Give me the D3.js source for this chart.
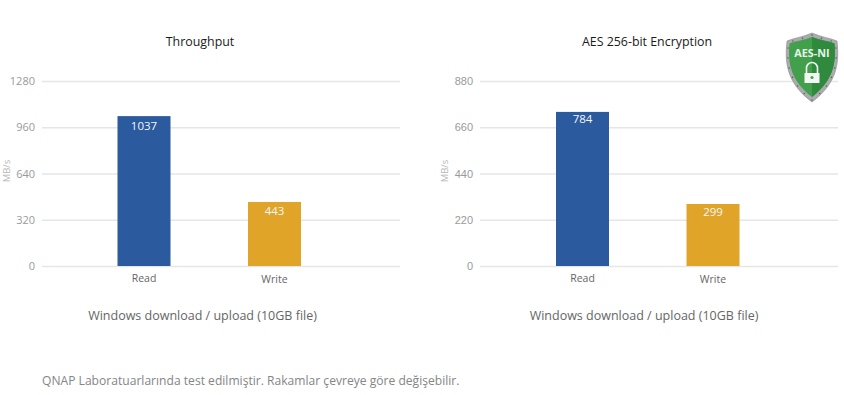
<!DOCTYPE html>
<html>
<head>
<meta charset="utf-8">
<script src="https://cdn.jsdelivr.net/npm/d3@7"></script>
<style>
  html, body { margin: 0; padding: 0; background: #fff; }
  svg { display: block; }
  text { font-family: "Open Sans", sans-serif; }
</style>
</head>
<body>
<svg id="chart" width="844" height="395"></svg>
<script>
var categories = ['Read', 'Write'];
var barColors = ['#2b5a9e', '#e0a528'];

var throughputValues = [1037, 443];
var throughputLabels = ['1037', '443'];
var throughputTicks = [0, 320, 640, 960, 1280];

// the Read bar in the picture stops well short of its "784" label, so the
// height is what was read off the axis and the label stays as printed
var encryptionValues = [733, 295];
var encryptionLabels = ['784', '299'];
var encryptionTicks = [0, 220, 440, 660, 880];

var subtitle = 'Windows download / upload (10GB file)';
var footnote = 'QNAP Laboratuarlarında test edilmiştir. Rakamlar çevreye göre değişebilir.';

var svg = d3.select('#chart');

function createBarChart(options) {
  var left = options.left,
    width = 358,
    top = 81,
    height = 185;

  var g = svg.append('g').attr('transform', 'translate(' + left + ',' + top + ')');

  // two bars sit left of centre in the plot, so a point scale with its own range
  var xScale = d3.scalePoint().domain(categories).range(options.barRange);
  var yScale = d3
    .scaleLinear()
    .domain([0, options.ticks[options.ticks.length - 1]])
    .range([height, 0]);
  var barWidth = 53;

  // gridlines + tick labels
  var yAxis = g.append('g').call(
    d3
      .axisLeft(yScale)
      .tickValues(options.ticks)
      .tickFormat(d3.format('d'))
      .tickSize(-width)
      .tickPadding(7)
  );
  yAxis.select('.domain').remove();
  yAxis.selectAll('.tick line').attr('stroke', '#e6e6e6').attr('stroke-width', 1.4);
  yAxis
    .selectAll('.tick text')
    .attr('fill', '#9a9a9a')
    .attr('font-size', '11px')
    .style('font-family', options.tickFont);

  // bars
  g.selectAll('.bar')
    .data(options.values)
    .enter()
    .append('rect')
    .attr('class', 'bar')
    .attr('x', function (d, i) {
      return xScale(categories[i]) - barWidth / 2;
    })
    .attr('y', function (d) {
      return yScale(d);
    })
    .attr('width', barWidth)
    .attr('height', function (d) {
      return height - yScale(d);
    })
    .attr('fill', function (d, i) {
      return barColors[i];
    });

  // value labels
  g.selectAll('.value')
    .data(options.values)
    .enter()
    .append('text')
    .attr('class', 'value')
    .attr('x', function (d, i) {
      return xScale(categories[i]);
    })
    .attr('y', function (d, i) {
      return yScale(d) + options.labelOffset[i];
    })
    .attr('text-anchor', 'middle')
    .attr('fill', '#f4f6fa')
    .attr('font-size', '11.5px')
    .text(function (d, i) {
      return options.labels[i];
    });

  // category labels
  g.selectAll('.cat')
    .data(categories)
    .enter()
    .append('text')
    .attr('class', 'cat')
    .attr('x', function (d) {
      return xScale(d);
    })
    .attr('y', function (d, i) {
      return height + 16 + i;
    })
    .attr('text-anchor', 'middle')
    .attr('fill', '#666')
    .attr('font-size', '10.5px')
    .text(function (d) {
      return d;
    });

  // y axis title
  g.append('text')
    .attr('transform', 'translate(' + options.unitX + ',' + 90 + ') rotate(-90)')
    .attr('text-anchor', 'middle')
    .attr('fill', '#b5b5b5')
    .attr('font-size', '9.5px')
    .text('MB/s');

  // chart title
  svg
    .append('text')
    .attr('x', options.titleX)
    .attr('y', 46)
    .attr('text-anchor', 'middle')
    .attr('fill', '#1a1a1a')
    .attr('font-size', '12.4px')
    .text(options.title);

  // caption under the chart
  svg
    .append('text')
    .attr('x', options.captionX)
    .attr('y', 319.5)
    .attr('text-anchor', 'middle')
    .attr('fill', '#666')
    .attr('font-size', '12.5px')
    .text(subtitle);
}

createBarChart({
  left: 42,
  title: 'Throughput',
  titleX: 200,
  captionX: 202.5,
  unitX: -32,
  barRange: [102, 232.5],
  values: throughputValues,
  labels: throughputLabels,
  ticks: throughputTicks,
  labelOffset: [14, 13],
  tickFont: '"Open Sans", sans-serif',
});

createBarChart({
  left: 480,
  title: 'AES 256-bit Encryption',
  titleX: 647,
  captionX: 644,
  unitX: -32,
  barRange: [102.5, 233],
  values: encryptionValues,
  labels: encryptionLabels,
  ticks: encryptionTicks,
  labelOffset: [11, 12],
  tickFont: '"Liberation Sans", sans-serif',
});

svg
  .append('text')
  .attr('x', 42)
  .attr('y', 385)
  .attr('fill', '#858585')
  .attr('font-size', '12.1px')
  .text(footnote);

// AES-NI shield badge
var badge = svg.append('g').attr('transform', 'translate(812,68)');
var shieldPath = 'M0,-35 C9,-31 18,-30 25,-27 C27,-8 27,14 0,34 C-27,14 -27,-8 -25,-27 C-18,-30 -9,-31 0,-35 Z';
var innerPath = 'M0,-31 C8,-28 16,-27 22.5,-24.5 C24,-7 23,11 0,29 C-23,11 -24,-7 -22.5,-24.5 C-16,-27 -8,-28 0,-31 Z';
badge.append('path').attr('class', 'rim').attr('d', shieldPath).attr('fill', '#a9abac').attr('stroke', '#8a8c8d').attr('stroke-width', 0.6);
badge.append('path').attr('d', innerPath).attr('fill', '#42a04c');
badge.append('path').attr('d', 'M0,-31 C8,-28 16,-27 22.5,-24.5 C24,-7 23,11 0,29 Z').attr('fill', '#2f8a3e');

// studs on the steel rim
var rim = badge.select('.rim').node();
var rimLength = rim.getTotalLength();
badge
  .selectAll('.stud')
  .data(d3.range(18))
  .enter()
  .append('circle')
  .attr('class', 'stud')
  .attr('cx', function (d) {
    return rim.getPointAtLength((rimLength * d) / 18).x * 0.94;
  })
  .attr('cy', function (d) {
    return rim.getPointAtLength((rimLength * d) / 18).y * 0.94;
  })
  .attr('r', 0.8)
  .attr('fill', '#5f6162');

badge
  .append('text')
  .attr('y', -11)
  .attr('text-anchor', 'middle')
  .attr('fill', '#e8f4ea')
  .attr('font-size', '10.8px')
  .attr('font-weight', 700)
  .text('AES-NI');
badge
  .append('path')
  .attr('d', 'M-5.5,5 V0 A5.5,5.5 0 0 1 5.5,0 V5')
  .attr('fill', 'none')
  .attr('stroke', '#f2f7f2')
  .attr('stroke-width', 1.6);
badge.append('rect').attr('x', -7.5).attr('y', 5).attr('width', 15).attr('height', 10).attr('fill', '#f2f7f2');
badge.append('circle').attr('cy', 9.5).attr('r', 1.6).attr('fill', '#4f9d58');
</script>
</body>
</html>
